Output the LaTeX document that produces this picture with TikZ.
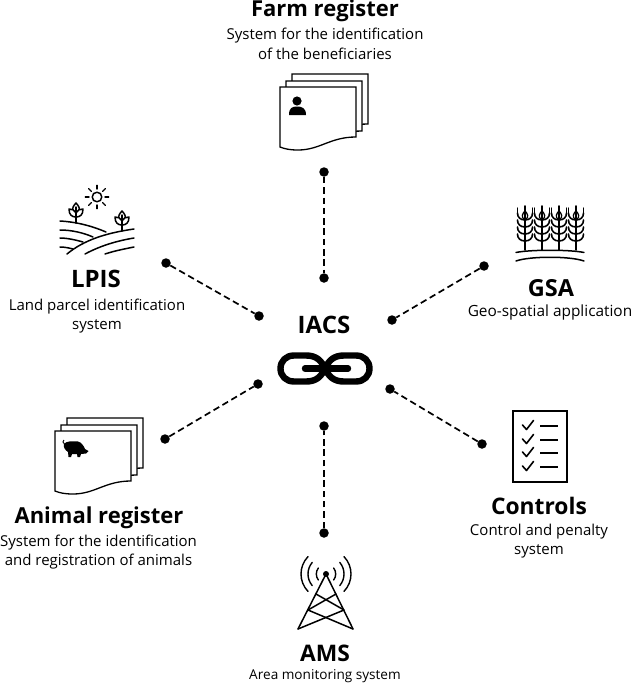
\documentclass[tikz,border=0pt]{standalone}
\usepackage{fontspec}
\setmainfont{Open Sans}
\usetikzlibrary{positioning}
\tikzset{
	linkdot/.style={circle, fill=black, inner sep=0pt, minimum size=9.5pt},
	linkdash/.style={line width=1.7pt, dash pattern=on 6.5pt off 3.8pt},
	bigtitle/.style={font=\fontsize{#1}{#1}\selectfont\bfseries, inner sep=0pt},
	sublabel/.style={font=\fontsize{#1}{19.4}\selectfont, align=center, inner sep=0pt},
	sublabel/.default=15,
	icon/.style={line width=1.5pt, line cap=round, line join=round},
	pagestack/.pic={
		\foreach \d/\e in {12/-13,6/-6,0/0} {
			\draw[line width=1.3pt, fill=white, shift={(\d,\e)}] (0,0) -- (76,0) -- (76,50) .. controls (50,50) and (40,63) .. (18,63) .. controls (10,63) and (5,62) .. (0,60) -- cycle;
		}
	},
	wheat/.pic={
		\draw[icon, line width=1.6pt] (0,0) -- (0,-44);
		\foreach \y in {-9,-16,-23,-30} {
			\draw[icon, line width=1.6pt] (0,\y) .. controls (-5,\y) and (-7.5,\y-3) .. (-7.5,\y-7);
			\draw[icon, line width=1.6pt] (0,\y) .. controls (5,\y) and (7.5,\y-3) .. (7.5,\y-7);
		}
		\draw[icon, line width=1.3pt] (0,-30) .. controls (-5,-33) and (-2,-37) .. (0,-39) .. controls (2,-37) and (5,-33) .. (0,-30);
		\draw[icon, line width=1.3pt] (-7.5,-37) -- (-7.5,-42) (7.5,-37) -- (7.5,-42);
	},
	sprout/.pic={
		\draw[icon] (0,0) -- (0,-16);
		\draw[icon] (0,-6) .. controls (-4,-6) and (-7,-8) .. (-7,-14) .. controls (-4,-14) and (-1,-13) .. (0,-10);
		\draw[icon] (0,-6) .. controls (4,-6) and (7,-8) .. (7,-14) .. controls (4,-14) and (1,-13) .. (0,-10);
		\draw[icon] (-3.5,-13.5) .. controls (-3,-17) and (-1,-19) .. (0,-20) .. controls (1,-19) and (3,-17) .. (3.5,-13.5);
	}
}
\begin{document}
\begin{tikzpicture}[x=1pt, y=-1pt]
	\useasboundingbox (0,0) rectangle (633,685);

	\node[linkdot] (farmOut) at (324,172) {};
	\node[linkdot] (farmIn) at (324,278) {};
	\node[linkdot] (lpisOut) at (166,263) {};
	\node[linkdot] (lpisIn) at (259,316) {};
	\node[linkdot] (gsaOut) at (484,266) {};
	\node[linkdot] (gsaIn) at (392,320) {};
	\node[linkdot] (animalOut) at (165,439) {};
	\node[linkdot] (animalIn) at (258,384) {};
	\node[linkdot] (controlsOut) at (482,444) {};
	\node[linkdot] (controlsIn) at (390,389) {};
	\node[linkdot] (amsOut) at (324,533) {};
	\node[linkdot] (amsIn) at (324,426) {};
	\foreach \a/\b in {farmOut/farmIn, lpisOut/lpisIn, gsaOut/gsaIn, animalOut/animalIn, controlsOut/controlsIn, amsOut/amsIn}
		\draw[linkdash] (\a) -- (\b);

	\node[bigtitle=22] (farmTitle) at (325,11) {Farm register};
	\node[sublabel] (farmSub) at (325,44) {System for the identification\\of the beneficiaries};
	\node[bigtitle=24] (lpisTitle) at (96,279) {LPIS};
	\node[sublabel] (lpisSub) at (97,316) {Land parcel identification\\system};
	\node[bigtitle=23.5] (gsaTitle) at (551,288) {GSA};
	\node[sublabel=15.4] (gsaSub) at (550,312) {Geo-spatial application};
	\node[bigtitle=24] (iacsTitle) at (324,325) {IACS};
	\node[bigtitle=22] (animalTitle) at (99,518) {Animal register};
	\node[sublabel] (animalSub) at (98.5,552) {System for the identification\\and registration of animals};
	\node[bigtitle=22.8] (controlsTitle) at (539,506) {Controls};
	\node[sublabel] (controlsSub) at (539,541) {Control and penalty\\system};
	\node[bigtitle=22.8] (amsTitle) at (325,653) {AMS};
	\node[sublabel=13.6] (amsSub) at (325,676) {Area monitoring system};

	\pic at (280,87) {pagestack};
	\fill (297,101) circle (4.6);
	\fill (289,115) .. controls (289,108) and (292,106.5) .. (297,106.5) .. controls (302,106.5) and (306,108) .. (306,115) -- cycle;

	\pic at (55,431) {pagestack};
	\fill (64,444) .. controls (66,441) and (72,441) .. (78,441.5) .. controls (81,442) and (84,446) .. (85,449) -- (88.5,451) -- (86,453.5) -- (81,454) -- (80,457) -- (77.5,457) -- (77,454) -- (72,454) -- (71,457) -- (68.5,457) -- (68,452) .. controls (65,450) and (63,447) .. (64,444) -- cycle;
	\draw[line width=.9pt] (64.5,444) .. controls (62.5,443) and (62.5,441) .. (64,440);

	\draw[icon] (97,197) circle (4.8);
	\foreach \r in {0,45,...,315}
		\draw[icon, line width=1.4pt] (97,197) ++(\r:8) -- ++(\r:3.7);
	\pic at (76,223) {sprout};
	\pic at (122,231) {sprout};
	\draw[icon] (60,221) .. controls (77,222) and (92,226) .. (106,232);
	\draw[icon] (60,230) .. controls (72,230) and (84,233) .. (93,237);
	\draw[icon] (60,238) .. controls (67,238) and (76,240) .. (83,242);
	\draw[icon] (60,247) .. controls (65,247) and (69,248) .. (73,249);
	\draw[icon] (67,254) .. controls (84,240) and (106,233) .. (134,229);
	\draw[icon] (85,254) .. controls (100,246) and (116,241) .. (134,238);
	\draw[icon] (105,254) .. controls (114,251) and (124,249) .. (134,247);

	\foreach \x in {525,542,559,576}
		\pic at (\x,250) {wheat};
	\draw[icon] (516,252.5) .. controls (530,249.5) and (570,249.5) .. (584,252.5);
	\draw[icon] (516,261) .. controls (530,256) and (570,256) .. (584,261);

	\draw[line width=2pt] (513,411) rectangle (566.5,482);
	\foreach \y in {426,440,453,467} {
		\draw[icon, line width=1.6pt] (522.5,\y-1) -- (526.5,\y+3.5) -- (533.5,\y-5.5);
		\draw[line width=1.5pt] (540,\y) -- (558,\y);
	}

	\draw[icon] (298,629) -- (326,574) -- (353,629);
	\draw[icon] (298,629) -- (344,610) -- (316,594);
	\draw[icon] (353,629) -- (308,610) -- (336,594);
	\fill (326,574) circle (3);
	\foreach \r/\a in {9.7/38,18/40,25/44} {
		\draw[icon, line width=1.4pt] (326,574) ++(180-\a:\r) arc[start angle=180-\a, end angle=180+\a, radius=\r];
		\draw[icon, line width=1.4pt] (326,574) ++(\a:\r) arc[start angle=\a, end angle=-\a, radius=\r];
	}

	\draw[line width=6.4pt, line cap=round] (305,368.5) -- (348,368.5);
	\draw[line width=6.4pt, line cap=round, line join=round] (325,368.5) .. controls (321,360) and (316,355.5) .. (306,355.5) -- (294,355.5) .. controls (286,355.5) and (280.5,361) .. (280.5,368.5) .. controls (280.5,376) and (286,381.5) .. (294,381.5) -- (306,381.5) .. controls (316,381.5) and (321,377) .. (325,368.5) .. controls (329,360) and (334,355.5) .. (344,355.5) -- (356,355.5) .. controls (364,355.5) and (369.5,361) .. (369.5,368.5) .. controls (369.5,376) and (364,381.5) .. (356,381.5) -- (344,381.5) .. controls (334,381.5) and (329,377) .. (325,368.5);
\end{tikzpicture}
\end{document}
